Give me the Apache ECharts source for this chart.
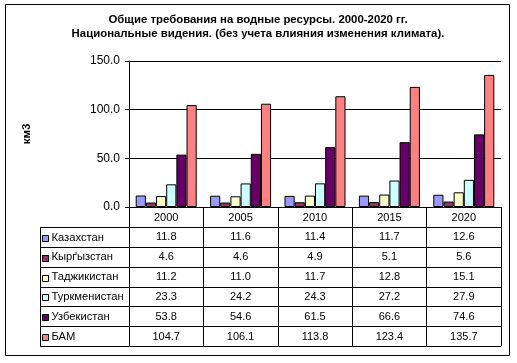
<!DOCTYPE html>
<html><head><meta charset="utf-8">
<script src="https://cdn.jsdelivr.net/npm/echarts@6/dist/echarts.min.js"></script>
<style>html,body{margin:0;padding:0;background:#fff}#c{width:517px;height:363px}</style>
</head><body><div id="c"></div>
<script>
const titleLines = ['Общие требования на водные ресурсы. 2000-2020 гг.', 'Национальные видения. (без учета влияния изменения климата).'];
const yTitle = 'км3';
const categories = ['2000', '2005', '2010', '2015', '2020'];
const seriesNames = ['Казахстан', 'Кырґызстан', 'Таджикистан', 'Туркменистан', 'Узбекистан', 'БАМ'];
const kazakhstan = [11.8, 11.6, 11.4, 11.7, 12.6];
const kyrgyzstan = [4.6, 4.6, 4.9, 5.1, 5.6];
const tajikistan = [11.2, 11.0, 11.7, 12.8, 15.1];
const turkmenistan = [23.3, 24.2, 24.3, 27.2, 27.9];
const uzbekistan = [53.8, 54.6, 61.5, 66.6, 74.6];
const bam = [104.7, 106.1, 113.8, 123.4, 135.7];
const yTicks = [0, 50, 100, 150];
const seriesData = [kazakhstan, kyrgyzstan, tajikistan, turkmenistan, uzbekistan, bam];
const colors = ['#9999FF', '#993366', '#FFFFCC', '#CCFFFF', '#660066', '#FF8080'];

const font = '"Liberation Sans", Arial, sans-serif';
const G = {left: 129, top: 61, width: 372, height: 146};
const tableBottom = 346, headerH = 20, tableLeft = 40;
const rowH = (tableBottom - (G.top + G.height + headerH)) / seriesNames.length;

const chart = echarts.init(document.getElementById('c'), null, {renderer: 'canvas'});

const graphics = [];
graphics.push({type: 'rect', shape: {x: 5.5, y: 4.5, width: 504, height: 351}, style: {fill: 'none', stroke: '#000', lineWidth: 1}, silent: true});
titleLines.forEach((t, i) => graphics.push({type: 'text', x: 258, y: 19.5 + i * 14, style: {text: t, font: 'bold 11.4px ' + font, fill: '#000', textAlign: 'center', textVerticalAlign: 'middle'}}));
graphics.push({type: 'text', x: 27, y: 134, rotation: Math.PI / 2, style: {text: yTitle, font: 'bold 11.5px ' + font, fill: '#000', textAlign: 'center', textVerticalAlign: 'middle'}});

const catW = G.width / categories.length;
const rowTop0 = G.top + G.height + headerH;
for (let r = 0; r <= seriesNames.length; r++) {
  const y = Math.round(rowTop0 + r * rowH) + 0.5;
  graphics.push({type: 'line', shape: {x1: tableLeft, y1: y, x2: G.left + G.width, y2: y}, style: {stroke: '#000', lineWidth: 1}, silent: true});
}
graphics.push({type: 'line', shape: {x1: tableLeft + 0.5, y1: Math.round(rowTop0) + 0.5, x2: tableLeft + 0.5, y2: tableBottom + 0.5}, style: {stroke: '#000', lineWidth: 1}, silent: true});
seriesNames.forEach((name, r) => {
  const cy = rowTop0 + (r + 0.5) * rowH;
  graphics.push({type: 'rect', shape: {x: 42.5, y: Math.round(cy) - 1.5, width: 6, height: 6}, style: {fill: colors[r], stroke: '#000', lineWidth: 1}});
  graphics.push({type: 'text', x: 51.5, y: cy + 0.5, style: {text: name, font: '11.2px ' + font, fill: '#000', textAlign: 'left', textVerticalAlign: 'middle'}});
  seriesData[r].forEach((v, c) => {
    graphics.push({type: 'text', x: G.left + (c + 0.5) * catW, y: cy + 0.5, style: {text: v.toFixed(1), font: '11px ' + font, fill: '#000', textAlign: 'center', textVerticalAlign: 'middle'}});
  });
});

chart.setOption({
  animation: false,
  backgroundColor: '#fff',
  textStyle: {fontFamily: font},
  grid: {left: G.left, top: G.top, width: G.width, height: G.height, containLabel: false},
  xAxis: {
    type: 'category', data: categories,
    axisLine: {lineStyle: {color: '#000', width: 1}},
    axisTick: {show: true, length: tableBottom - (G.top + G.height), lineStyle: {color: '#000'}},
    axisLabel: {color: '#000', fontSize: 11, fontFamily: font, margin: 5}
  },
  yAxis: {
    type: 'value', min: yTicks[0], max: yTicks[yTicks.length - 1], interval: yTicks[1] - yTicks[0],
    axisLine: {show: true, lineStyle: {color: '#000'}},
    axisTick: {show: true, length: 4, lineStyle: {color: '#000'}},
    axisLabel: {color: '#000', fontSize: 12, fontFamily: font, margin: 9, formatter: v => v.toFixed(1)},
    splitLine: {show: true, lineStyle: {color: '#000', width: 1}}
  },
  series: seriesNames.map((n, i) => ({
    name: n, type: 'bar', data: seriesData[i],
    barGap: '0%', barCategoryGap: '18%',
    itemStyle: {color: colors[i], borderColor: '#000', borderWidth: 1}
  })),
  graphic: graphics
});
</script></body></html>
